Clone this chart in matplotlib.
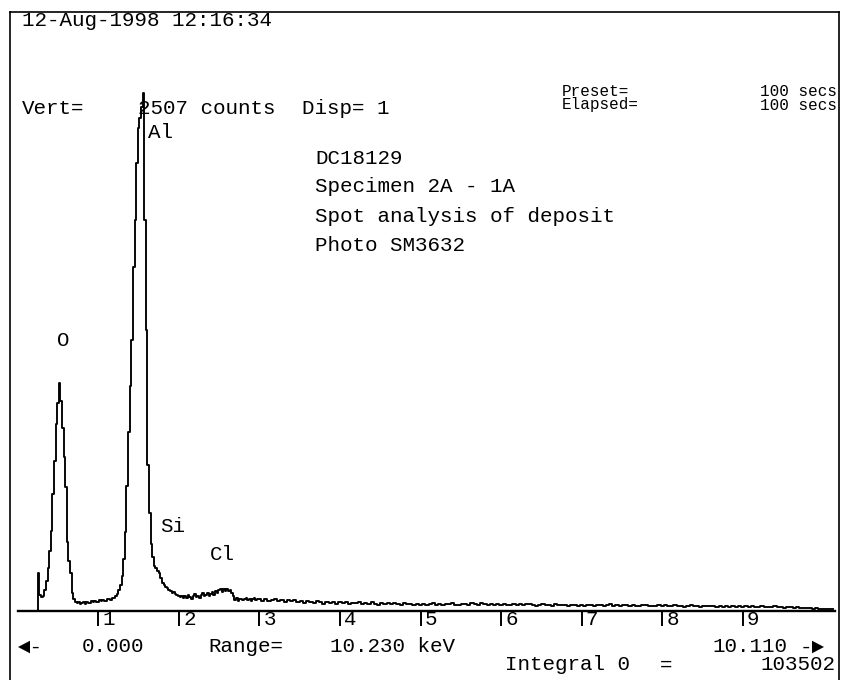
import numpy as np
import matplotlib
matplotlib.use("Agg")
import matplotlib.pyplot as plt
from matplotlib.lines import Line2D
from matplotlib import transforms

# EDS spectrum: counts per channel
# low range 0.24 .. 2.98 keV, 0.02 keV channels
counts_low = [
    0, 182, 78, 66, 72, 100, 145, 205, 290, 385,
    560, 720, 900, 1000, 1094, 1010, 880, 740, 595, 330,
    240, 182, 88, 60, 45, 38, 41, 34, 39, 43,
    36, 45, 39, 37, 47, 43, 50, 45, 41, 52,
    48, 55, 49, 46, 58, 60, 55, 64, 62, 70,
    84, 100, 125, 170, 250, 380, 600, 860, 1080, 1300,
    1650, 1880, 2150, 2320, 2370, 2420, 2486, 1880, 1350, 700,
    470, 320, 260, 215, 205, 192, 182, 158, 136, 126,
    117, 110, 101, 97, 88, 90, 81, 77, 74, 68,
    72, 63, 70, 62, 75, 66, 60, 72, 80, 68,
    74, 64, 78, 85, 70, 76, 88, 74, 82, 92,
    79, 95, 86, 100, 104, 92, 108, 98, 106, 94,
    99, 86, 72, 55, 62, 50, 56, 60, 52, 58,
    63, 54, 60, 49, 57, 62, 53, 58,
]
# high range 3.00 .. 10.12 keV, 0.04 keV channels
counts_high = [
    56, 50, 59, 47, 54, 60, 49, 52, 45, 55, 48, 51, 44,
    47, 40, 50, 43, 38, 46, 41, 36, 44, 39, 42, 35,
    41, 37, 45, 34, 40, 38, 43, 33, 39, 36, 42, 35, 31, 38, 34, 40, 32, 37, 35, 30, 38, 33, 36, 29, 34,
    31, 36, 28, 33, 37, 30, 34, 29, 35, 32, 38, 30, 27, 33, 36, 31, 40, 34, 29, 37, 32, 28, 35, 30, 33,
    29, 34, 31, 27, 36, 30, 33, 28, 32, 35, 29, 26, 31, 34, 28, 30, 25, 32, 29, 27, 31, 26, 30, 28, 24,
    29, 26, 31, 27, 24, 30, 28, 25, 29, 32, 26, 28, 24, 27, 30, 25, 28, 26, 23, 27, 29, 25, 22, 26, 28,
    24, 27, 22, 25, 28, 23, 26, 21, 24, 27, 22, 25, 20, 23, 26, 22, 24, 21, 25, 19, 23, 21, 24, 20, 22,
    20, 23, 19, 22, 18, 21, 24, 19, 20, 17, 22, 18, 20, 16, 19, 17, 15, 18, 14, 16, 13, 15, 12, 14, 11,
    12, 10, 11, 9,
]
tick_kev = [1, 2, 3, 4, 5, 6, 7, 8, 9]
peak_labels = ["O", "Al", "Si", "Cl"]
header_date = "12-Aug-1998 12:16:34"
vert_counts = 2507
sample_lines = ["DC18129", "Specimen 2A - 1A", "Spot analysis of deposit", "Photo SM3632"]
range_start = "0.000"
range_width = "10.230 keV"
range_end = "10.110"
integral = "103502"

e_low = 0.24 + 0.02 * np.arange(len(counts_low))
e_high = 3.00 + 0.04 * np.arange(len(counts_high))
energy = np.concatenate([e_low, e_high])
counts = np.concatenate([counts_low, counts_high])

W, H = 844, 680
MONO = ["Liberation Mono", "DejaVu Sans Mono", "DejaVu Sans"]

fig = plt.figure(figsize=(W / 100, H / 100), dpi=100)
fig.patch.set_facecolor("white")

# axes placed so 0 keV / 0 counts sit on the scanned baseline
x0, y0 = 17.75, 611
kev_px = 80.55
ax = fig.add_axes([x0 / W, (H - y0) / H, kev_px * 10.15 / W, (y0 - 89) / H])
ax.plot(energy, counts, color="black", lw=1.35, drawstyle="steps-mid", clip_on=False)
ax.set_xlim(0, 10.15)
ax.set_ylim(0, vert_counts)
for s in ["top", "left", "right"]:
    ax.spines[s].set_visible(False)
ax.spines["bottom"].set_linewidth(1.7)
ax.set_yticks([])
ax.set_xticks(tick_kev)
ax.tick_params(axis="x", direction="out", length=10.5, width=1.4, labelbottom=False)
ax.patch.set_alpha(0)

lab_tf = transforms.offset_copy(ax.get_xaxis_transform(), fig=fig, x=3, y=0, units="points")
for k in tick_kev:
    ax.text(k, -0.017, str(k), transform=lab_tf, fontsize=15, family=MONO,
            ha="left", va="center")


def put(x, y, s, size=15, **kw):
    fig.text(x / W, 1 - y / H, s, fontsize=size, family=MONO,
             ha="left", va="center", **kw)


# header
put(22, 20, header_date)
put(22, 109, "Vert=")
put(138, 109, "%d counts" % vert_counts)
put(302, 109, "Disp= 1")
put(562, 91, "Preset=", size=11.5)
put(760, 91, "100 secs", size=11.5)
put(562, 105, "Elapsed=", size=11.5)
put(760, 105, "100 secs", size=11.5)

# sample description
for i, line in enumerate(sample_lines):
    put(315, 158 + 29 * i, line)

# element labels
put(57, 340, peak_labels[0])
put(148, 132, peak_labels[1])
put(160, 527, peak_labels[2])
put(210, 555, peak_labels[3])

# footer
put(18, 647, "\u25c4-")
put(82, 647, range_start)
put(208, 647, "Range=")
put(330, 647, range_width)
put(712, 647, range_end)
put(800, 647, "-\u25ba")
put(505, 665, "Integral 0")
put(660, 665, "=")
put(760, 665, integral)

# screen frame
for xs, ys in [([10, 10], [12, 680]), ([10, 839], [12, 12]), ([839, 839], [12, 680])]:
    fig.add_artist(Line2D([x / W for x in xs], [1 - y / H for y in ys],
                          transform=fig.transFigure, color="black", lw=1.2))

fig.savefig("out.png", dpi=100, facecolor="white")
